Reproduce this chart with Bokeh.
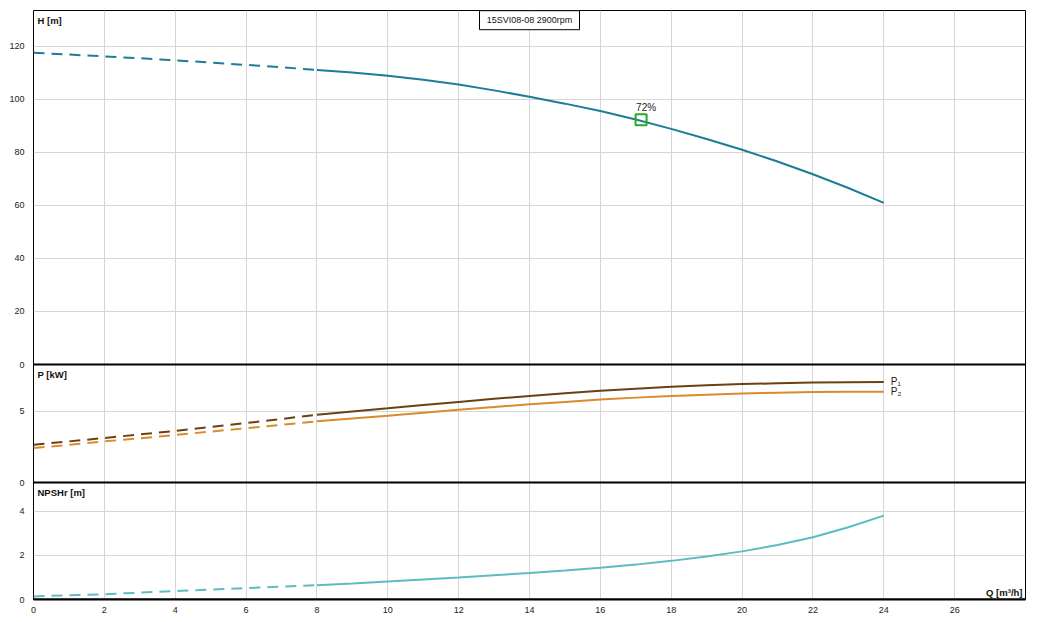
from bokeh.plotting import figure
from bokeh.models import FixedTicker, Range1d, Span
from bokeh.core.properties import value
from bokeh.embed import file_html
from bokeh.resources import INLINE

# ---------------- data ----------------
flow = [0, 1, 2, 3, 4, 5, 6, 7, 8, 9, 10, 11, 12, 13, 14, 15, 16, 17, 18, 19, 20, 21, 22, 23, 24]
head = [117.5, 116.8, 116.1, 115.4, 114.6, 113.8, 112.9, 112.0, 111.0, 110.0, 108.8, 107.3, 105.5,
        103.3, 100.9, 98.3, 95.5, 92.3, 88.8, 85.0, 80.9, 76.5, 71.7, 66.5, 60.9]
power_p1 = [2.65, 2.89, 3.13, 3.38, 3.63, 3.90, 4.18, 4.47, 4.77, 5.00, 5.22, 5.45, 5.67,
            5.89, 6.09, 6.28, 6.45, 6.60, 6.73, 6.84, 6.92, 6.98, 7.03, 7.06, 7.07]
power_p2 = [2.42, 2.65, 2.89, 3.11, 3.34, 3.58, 3.82, 4.06, 4.30, 4.50, 4.70, 4.91, 5.11,
            5.31, 5.50, 5.67, 5.83, 5.97, 6.09, 6.18, 6.26, 6.32, 6.36, 6.38, 6.39]
npshr = [0.14, 0.19, 0.24, 0.31, 0.38, 0.45, 0.52, 0.58, 0.65, 0.73, 0.82, 0.91, 1.00,
         1.10, 1.20, 1.31, 1.44, 1.58, 1.75, 1.95, 2.18, 2.47, 2.82, 3.27, 3.80]
dashed_count = 9  # points Q = 0..8 are drawn dashed

eff_q = [17.15]
eff_h = [92.2]
eff_text = ["72%"]
chart_title = "15SVI08-08 2900rpm"

x_ticks = [0, 2, 4, 6, 8, 10, 12, 14, 16, 18, 20, 22, 24, 26]
x_grid = [0, 2, 4, 6, 8, 10, 12, 14, 16, 18, 20, 22, 24, 26, 28]
h_ticks = [0, 20, 40, 60, 80, 100, 120]
p_ticks = [0, 5]
n_ticks = [0, 2, 4]

# ---------------- layout ----------------
FRAME_H = 589
panel_px = {"H": (235, 589), "P": (117, 235), "N": (0, 117)}
panel_top = {"H": 133.4, "P": 8.3, "N": 5.3}
scale = {k: (panel_px[k][1] - panel_px[k][0]) / panel_top[k] for k in panel_px}


def make_range(k):
    b = panel_px[k][0]
    return Range1d(-b / scale[k], (FRAME_H - b) / scale[k])


def to_main(k, v):
    px = panel_px[k][0] + v * scale[k]
    return round((px - panel_px["H"][0]) / scale["H"], 6)


FONT = "Liberation Sans"
GRID = "#d6d6d6"
C_H = "#1d7d98"
C_P1 = "#6b4114"
C_P2 = "#db8a2c"
C_N = "#5dbcc3"
DASH = "11 7"

p = figure(width=1042, height=620, x_range=Range1d(0, 28), y_range=make_range("H"),
           output_backend="svg", toolbar_location=None,
           min_border_left=33, min_border_right=17, min_border_top=10, min_border_bottom=21)
p.extra_y_ranges = {"p": make_range("P"), "n": make_range("N")}
p.background_fill_color = "white"
p.border_fill_color = "white"
p.outline_line_color = "black"
p.outline_line_width = 1

# x axis
p.xaxis.ticker = FixedTicker(ticks=x_ticks)
p.xaxis.major_tick_line_color = None
p.xaxis.minor_tick_line_color = None
p.xaxis.axis_line_color = "black"
p.xaxis.axis_line_width = 2
p.xaxis.major_label_standoff = 1
p.xaxis.major_label_text_font = FONT
p.xaxis.major_label_text_font_size = "9px"
p.xaxis.major_label_text_color = "#222222"
p.xgrid.ticker = FixedTicker(ticks=x_grid)
p.xgrid.grid_line_color = GRID

# combined left axis for the three panels
tick_pos, overrides = [], {}
for k, ticks in (("H", h_ticks), ("P", p_ticks), ("N", n_ticks)):
    for v in ticks:
        pos = to_main(k, v)
        tick_pos.append(pos)
        overrides[pos] = str(v)
p.yaxis.ticker = FixedTicker(ticks=tick_pos)
p.yaxis.major_label_overrides = overrides
p.yaxis.major_tick_line_color = None
p.yaxis.minor_tick_line_color = None
p.yaxis.axis_line_color = None
p.yaxis.major_label_standoff = 3
p.yaxis.major_label_text_font = FONT
p.yaxis.major_label_text_font_size = "9px"
p.yaxis.major_label_text_color = "#222222"

grid_pos = [to_main("H", v) for v in h_ticks if v > 0] + \
           [to_main("P", v) for v in p_ticks if v > 0] + \
           [to_main("N", v) for v in n_ticks if v > 0]
p.ygrid.ticker = FixedTicker(ticks=grid_pos)
p.ygrid.grid_line_color = GRID

# thick panel base lines
for k in ("H", "P", "N"):
    p.add_layout(Span(location=to_main(k, 0), dimension="width", line_color="black", line_width=2))

# ---------------- curves ----------------
d = dashed_count
p.line(flow[:d], head[:d], line_color=C_H, line_width=2, line_dash=DASH)
p.line(flow[d - 1:], head[d - 1:], line_color=C_H, line_width=2)

p.line(flow[:d], power_p1[:d], line_color=C_P1, line_width=2, line_dash=DASH, y_range_name="p")
p.line(flow[d - 1:], power_p1[d - 1:], line_color=C_P1, line_width=2, y_range_name="p")
p.line(flow[:d], power_p2[:d], line_color=C_P2, line_width=2, line_dash=DASH, y_range_name="p")
p.line(flow[d - 1:], power_p2[d - 1:], line_color=C_P2, line_width=2, y_range_name="p")

p.line(flow[:d], npshr[:d], line_color=C_N, line_width=2, line_dash=DASH, y_range_name="n")
p.line(flow[d - 1:], npshr[d - 1:], line_color=C_N, line_width=2, y_range_name="n")

# efficiency marker
p.scatter(eff_q, eff_h, marker="square", size=11, fill_color=None,
          line_color="#2aa82a", line_width=2)
p.text(eff_q, eff_h, text=eff_text, x_offset=5, y_offset=-12,
       text_align="center", text_baseline="middle",
       text_font=value(FONT), text_font_size="10px", text_color="#222222")

# curve end labels
p.text([flow[-1]], [power_p1[-1]], text=["P\u2081"], x_offset=7, y_offset=0,
       text_baseline="middle", text_font=value(FONT), text_font_size="10px",
       text_color="#222222", y_range_name="p")
p.text([flow[-1]], [power_p2[-1]], text=["P\u2082"], x_offset=7, y_offset=0,
       text_baseline="middle", text_font=value(FONT), text_font_size="10px",
       text_color="#222222", y_range_name="p")

# panel titles
for label, k, rn in (("H [m]", "H", "default"), ("P [kW]", "P", "p"), ("NPSHr [m]", "N", "n")):
    p.text([0], [panel_top[k]], text=[label], x_offset=4, y_offset=4,
           text_baseline="top", text_font=value(FONT), text_font_size="9.5px",
           text_font_style="bold", text_color="#111111", y_range_name=rn)
p.text([28], [0], text=["Q [m\u00b3/h]"], x_offset=-3, y_offset=-2,
       text_align="right", text_baseline="bottom", text_font=value(FONT),
       text_font_size="9.5px", text_font_style="bold", text_color="#111111",
       y_range_name="n")

# chart title box
box_y = panel_top["H"] - 9.7 / scale["H"]
p.rect([14], [box_y], width=100, height=19, width_units="screen", height_units="screen",
       fill_color="white", line_color="black", line_width=1)
p.text([14], [box_y], text=[chart_title], text_align="center", text_baseline="middle",
       text_font=value(FONT), text_font_size="9px", text_color="#111111")

open("out.html", "w").write(file_html(p, INLINE))
